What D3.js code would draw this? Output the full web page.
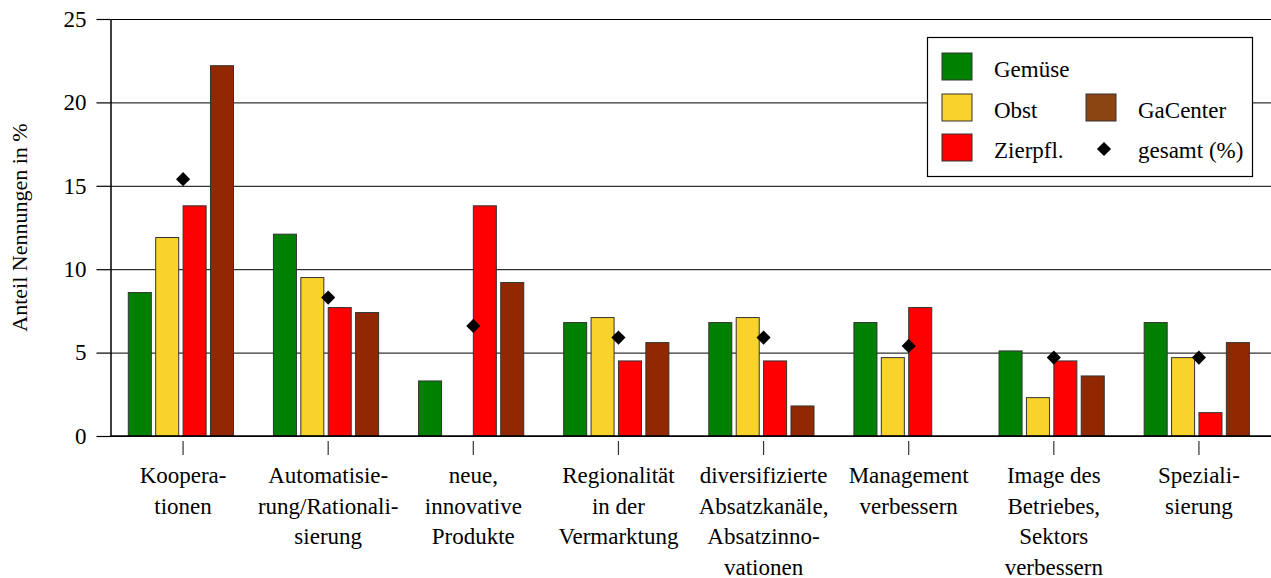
<!DOCTYPE html>
<html lang="de">
<head>
<meta charset="UTF-8">
<title>Anteil Nennungen</title>
<script src="https://d3js.org/d3.v7.min.js"></script>
<style>
    body, html { margin: 0; padding: 0; background: #fff; }
</style>
</head>
<body>
<div id="chart"></div>
<script>
    // data
    const categories = [
        ["Koopera-", "tionen"],
        ["Automatisie-", "rung/Rationali-", "sierung"],
        ["neue,", "innovative", "Produkte"],
        ["Regionalität", "in der", "Vermarktung"],
        ["diversifizierte", "Absatzkanäle,", "Absatzinno-", "vationen"],
        ["Management", "verbessern"],
        ["Image des", "Betriebes,", "Sektors", "verbessern"],
        ["Speziali-", "sierung"]
    ];
    const series = ["Gemüse", "Obst", "Zierpfl.", "GaCenter"];
    const gemuese = [8.6, 12.1, 3.3, 6.8, 6.8, 6.8, 5.1, 6.8];
    const obst = [11.9, 9.5, 0, 7.1, 7.1, 4.7, 2.3, 4.7];
    const zierpfl = [13.8, 7.7, 13.8, 4.5, 4.5, 7.7, 4.5, 1.4];
    const gacenter = [22.2, 7.4, 9.2, 5.6, 1.8, 0, 3.6, 5.6];
    const gesamt = [15.4, 8.3, 6.6, 5.9, 5.9, 5.4, 4.7, 4.7];
    const yTicks = [0, 5, 10, 15, 20, 25];

    const barColors = ["#008000", "#fad22c", "#ff0000", "#922800"];
    const legendColors = ["#008000", "#fad22c", "#ff0000", "#8b4513"];

    const FONT = "Liberation Serif";
    const W = 1271, H = 578;
    const mLeft = 110.5, mRight = 1271.5, mTop = 19, mBottom = 436;

    const svg = d3.select("#chart").append("svg")
        .attr("width", W).attr("height", H);

    const catIds = categories.map((c, i) => i);
    const x0 = d3.scaleBand().domain(catIds).range([mLeft, mRight]);
    const x1 = d3.scaleBand().domain(series).range([17.8, 123]).paddingInner(0.16);
    const y = d3.scaleLinear().domain([0, 25]).range([mBottom, mTop]);

    // grid lines
    svg.append("g")
        .attr("transform", `translate(${mLeft},0)`)
        .call(d3.axisLeft(y).tickValues(yTicks).tickSize(-(mRight - mLeft)).tickFormat(""))
        .call(g => g.select(".domain").remove())
        .selectAll("line").attr("stroke", "#000").attr("stroke-width", 1);

    // y axis
    const yAxis = svg.append("g")
        .attr("transform", `translate(${mLeft},0)`)
        .call(d3.axisLeft(y).tickValues(yTicks).tickSize(14).tickPadding(10).tickSizeOuter(0));
    yAxis.select(".domain").attr("stroke", "#000").attr("stroke-width", 1.5);
    yAxis.selectAll("line").attr("stroke", "#000").attr("stroke-width", 1.2);
    yAxis.selectAll("text")
        .attr("fill", "#000")
        .style("font-family", FONT)
        .style("font-size", "23px");

    // y axis title
    svg.append("text")
        .attr("transform", `translate(27,${(mTop + mBottom) / 2}) rotate(-90)`)
        .attr("text-anchor", "middle")
        .style("font-family", FONT)
        .style("font-size", "22px")
        .text("Anteil Nennungen in %");

    // bars
    const vals = [gemuese, obst, zierpfl, gacenter];
    const groups = svg.append("g").selectAll("g")
        .data(catIds)
        .join("g")
        .attr("transform", d => `translate(${x0(d)},0)`);

    groups.selectAll("rect")
        .data(i => series.map((s, k) => ({ s: s, k: k, v: vals[k][i] })).filter(d => d.v > 0))
        .join("rect")
        .attr("x", d => x1(d.s))
        .attr("width", x1.bandwidth())
        .attr("y", d => y(d.v))
        .attr("height", d => y(0) - y(d.v))
        .attr("fill", d => barColors[d.k])
        .attr("stroke", "#333")
        .attr("stroke-width", 1);

    // x baseline
    svg.append("line")
        .attr("x1", mLeft).attr("x2", mRight)
        .attr("y1", mBottom).attr("y2", mBottom)
        .attr("stroke", "#000").attr("stroke-width", 1.5);

    // gesamt markers
    const diamond = d3.symbol(d3.symbolSquare, 100);
    svg.append("g").selectAll("path")
        .data(gesamt)
        .join("path")
        .attr("d", diamond)
        .attr("transform", (d, i) => `translate(${x0(i) + x0.bandwidth() / 2},${y(d)}) rotate(45)`)
        .attr("fill", "#000");

    // category ticks and labels
    const cats = svg.append("g").selectAll("g")
        .data(categories)
        .join("g")
        .attr("transform", (d, i) => `translate(${x0(i) + x0.bandwidth() / 2},0)`);
    cats.append("line")
        .attr("y1", mBottom + 5).attr("y2", mBottom + 19)
        .attr("stroke", "#333").attr("stroke-width", 1.2);
    cats.append("text")
        .attr("text-anchor", "middle")
        .style("font-family", FONT)
        .style("font-size", "23px")
        .selectAll("tspan")
        .data(d => d)
        .join("tspan")
        .attr("x", 0)
        .attr("y", (d, i) => 483 + i * 30.5)
        .text(d => d);

    // legend
    const lg = svg.append("g");
    lg.append("rect")
        .attr("x", 927.5).attr("y", 37.5).attr("width", 325).attr("height", 139)
        .attr("fill", "#fff").attr("stroke", "#000").attr("stroke-width", 1.2);
    const legendPos = [[942, 53], [942, 94], [942, 134], [1086, 94]];
    series.forEach((s, k) => {
        const [lx, ly] = legendPos[k];
        lg.append("rect")
            .attr("x", lx).attr("y", ly).attr("width", 30).attr("height", 27)
            .attr("fill", legendColors[k]).attr("stroke", "#333").attr("stroke-width", 1);
        lg.append("text")
            .attr("x", lx + 52).attr("y", ly + 24)
            .style("font-family", FONT)
            .style("font-size", "23px")
            .text(s);
    });
    lg.append("path")
        .attr("d", diamond)
        .attr("transform", "translate(1104,149) rotate(45)")
        .attr("fill", "#000");
    lg.append("text")
        .attr("x", 1138).attr("y", 158)
        .style("font-family", FONT)
        .style("font-size", "23px")
        .text("gesamt (%)");
</script>
</body>
</html>
